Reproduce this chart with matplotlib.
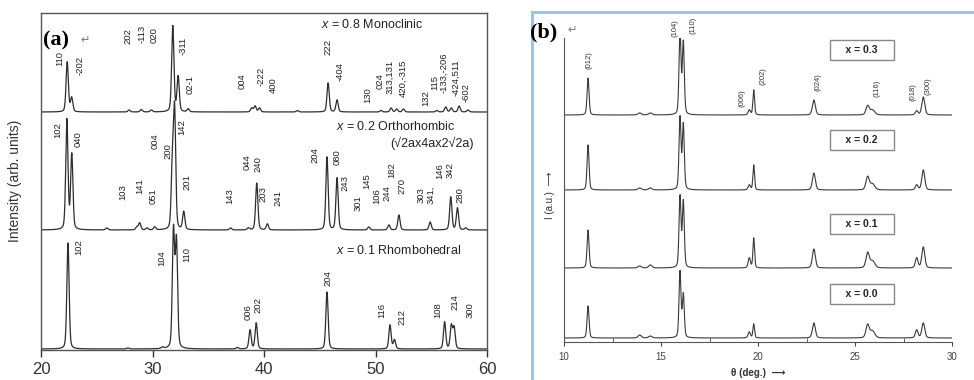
import numpy as np
import matplotlib
matplotlib.use('Agg')
import matplotlib.pyplot as plt
from matplotlib.patches import Rectangle

plt.rcParams['font.family'] = ['Liberation Sans', 'DejaVu Sans']
plt.rcParams['mathtext.fontset'] = 'custom'
plt.rcParams['mathtext.it'] = 'Liberation Sans:italic'
plt.rcParams['mathtext.rm'] = 'Liberation Sans'

# ---------------- panel (a): 2-theta of each reflection and height above baseline
mono_pos = [22.35, 22.75, 27.9, 29.0, 29.9, 31.82, 32.3, 33.2, 38.9, 39.2, 39.6, 43.0,
            45.75, 46.55, 50.5, 51.4, 51.9, 52.5, 55.5, 56.3, 56.8, 57.5, 58.3]
mono_h = [50, 14, 2, 2.5, 2, 86, 35, 3, 4, 6, 4, 1.5,
          29, 12, 1.5, 4, 3, 3, 1.5, 5, 4, 6, 2]

ortho_pos = [22.32, 22.76, 25.9, 28.6, 28.85, 29.5, 30.2, 31.78, 31.98, 32.8, 37.0, 38.6,
             39.35, 40.3, 45.65, 46.55, 49.4, 51.2, 52.1, 54.9, 56.75, 57.35, 58.1]
ortho_h = [110, 75, 2, 3, 7, 2, 3, 60, 117, 18, 2, 2,
           47, 6, 73, 52, 3, 5, 15, 8, 33, 22, 2]

rhombo_pos = [22.42, 27.8, 30.9, 31.88, 32.15, 37.6, 38.75, 39.3, 45.65, 51.3, 51.7,
              56.2, 56.8, 57.05]
rhombo_h = [106, 1, 1.5, 117, 106, 1.5, 19, 26, 57, 24, 9, 27, 23, 21]

# label text with its anchor (2-theta, height in panel units)
mono_tags = [('110', 21.7, 292), ('-202', 23.5, 285), ('202', 27.8, 314), ('-113', 29.05, 316),
             ('020', 30.15, 315), ('-311', 32.75, 304), ('02-1', 33.4, 265), ('004', 38.05, 269),
             ('-222', 39.75, 274), ('400', 40.8, 265), ('222', 45.75, 303), ('-404', 46.8, 278),
             ('130', 49.35, 255), ('024', 50.4, 269), ('313,131', 51.3, 273),
             ('420,-315', 52.45, 272), ('132', 54.55, 252), ('115', 55.3, 267),
             ('-133,-206', 56.1, 277), ('-424,511', 57.25, 272), ('-602', 58.15, 257)]
ortho_tags = [('102', 21.5, 220), ('040', 23.3, 211), ('103', 27.35, 158), ('141', 28.85, 164),
              ('051', 30.05, 154), ('004', 30.2, 209), ('200', 31.4, 199), ('142', 32.6, 223),
              ('201', 33.1, 168), ('143', 36.95, 154), ('044', 38.5, 188), ('240', 39.45, 186),
              ('203', 39.9, 156), ('241', 41.25, 152), ('204', 44.55, 195), ('080', 46.55, 193),
              ('243', 47.25, 167), ('301', 48.45, 147), ('145', 49.25, 169), ('106', 50.15, 154),
              ('244', 51.05, 157), ('182', 51.5, 180), ('270', 52.4, 164), ('303', 54.1, 155),
              ('341,', 55.0, 155), ('146', 55.8, 179), ('342', 56.7, 180), ('280', 57.6, 155)]
rhombo_tags = [('102', 23.35, 103), ('104', 30.85, 92), ('110', 33.1, 95), ('006', 38.55, 38),
               ('202', 39.45, 45), ('204', 45.75, 72), ('116', 50.6, 39), ('212', 52.4, 33),
               ('108', 55.6, 40), ('214', 57.15, 48), ('300', 58.5, 40)]

# ---------------- panel (b): theta of each reflection and heights for x = 0.3 ... 0.0
b_pos = [11.24, 13.9, 14.45, 15.98, 16.15, 19.55, 19.78, 22.88, 25.65, 25.9, 28.18, 28.52]
b_width = [0.06, 0.1, 0.1, 0.06, 0.06, 0.07, 0.05, 0.09, 0.1, 0.14, 0.08, 0.09]
h_x03 = [37, 2, 2, 82, 72, 5, 25, 15, 9, 5, 4, 18]
h_x02 = [45, 2, 2, 72, 65, 5, 25, 17, 13, 6, 5, 20]
h_x01 = [38, 2, 3, 71, 66, 10, 30, 19, 15, 7, 10, 21]
h_x00 = [32, 3, 2, 66, 43, 6, 14, 15, 13, 7, 8, 15]
b_names = ['x = 0.3', 'x = 0.2', 'x = 0.1', 'x = 0.0']
b_tags = [('(012)', 11.29, 282), ('(104)', 15.72, 314), ('(110)', 16.65, 317), ('(006)', 19.18, 244),
          ('(202)', 20.26, 266), ('(024)', 23.09, 260), ('(116)', 26.13, 254),
          ('(018)', 27.99, 250), ('(300)', 28.76, 256)]


def pattern(x, pos, height, width, base):
    y = np.full_like(x, base, dtype=float)
    width = np.broadcast_to(width, len(pos))
    for p, h, w in zip(pos, height, width):
        u = (x - p) / w
        y += h * (0.7 * np.exp(-np.log(2) * u ** 2) + 0.3 / (1 + u ** 2))
    return y


fig = plt.figure(figsize=(9.74, 3.8), dpi=100)
W, H = 974.0, 380.0

# ---------------- panel (a)
ax = fig.add_axes([41 / W, 1 - 350 / H, 446 / W, 337 / H])
tt = np.linspace(20, 60, 6000)
line_kw = dict(color='#2e2e2e', lw=0.9)
ax.plot(tt, pattern(tt, mono_pos, mono_h, 0.12, 238), **line_kw)
ax.plot(tt, pattern(tt, ortho_pos, ortho_h, 0.12, 120), **line_kw)
ax.plot(tt, pattern(tt, rhombo_pos, rhombo_h, 0.12, 1), **line_kw)
ax.set_xlim(20, 60)
ax.set_ylim(0, 337)
ax.set_yticks([])
ax.set_xticks([20, 30, 40, 50, 60])
ax.tick_params(axis='x', direction='out', length=5, width=1, labelsize=12, pad=4, colors='#333')
for s in ax.spines.values():
    s.set_color('#555')
    s.set_linewidth(1)

for tags in (mono_tags, ortho_tags, rhombo_tags):
    for txt, x, y in tags:
        ax.text(x, y, txt, rotation=90, ha='center', va='center', fontsize=6.8, color='#222')

ax.text(49.7, 326, '$x$ = 0.8 Monoclinic', ha='center', va='center', fontsize=9, color='#222')
ax.text(51.8, 223, '$x$ = 0.2 Orthorhombic', ha='center', va='center', fontsize=9, color='#222')
ax.text(58.8, 207, '(\u221a2ax4ax2\u221a2a)', ha='right', va='center', fontsize=9, color='#222')
ax.text(52.1, 100, '$x$ = 0.1 Rhombohedral', ha='center', va='center', fontsize=9, color='#222')

fig.text(43 / W, 1 - 40 / H, '(a)', family='Liberation Serif', weight='bold', fontsize=16,
         va='center', ha='left', bbox=dict(fc='white', ec='none', pad=0), zorder=5)
fig.text(80 / W, 1 - 40 / H, '\u21b5', fontsize=8, color='#777', va='center',
         family=['DejaVu Sans'])
fig.text(15 / W, 1 - 181 / H, 'Intensity (arb. units)', rotation=90, ha='center', va='center',
         fontsize=10, color='#333')

# ---------------- panel (b)
bx = fig.add_axes([564 / W, 1 - 342 / H, 388 / W, 304 / H])
th = np.linspace(10, 30, 6000)
for heights, base in zip([h_x03, h_x02, h_x01, h_x00], [227, 152, 74, 4]):
    bx.plot(th, pattern(th, b_pos, heights, b_width, base), color='#3a3a3a', lw=0.8)
bx.set_xlim(10, 30)
bx.set_ylim(0, 304)
bx.set_yticks([])
bx.set_xticks([10, 15, 20, 25, 30])
bx.set_xticks([12.5, 17.5, 22.5, 27.5], minor=True)
bx.tick_params(axis='x', which='major', direction='out', length=3, labelsize=7, pad=4, colors='#444')
bx.tick_params(axis='x', which='minor', direction='in', length=3, colors='#444')
bx.spines['top'].set_visible(False)
bx.spines['right'].set_visible(False)
for s in ('left', 'bottom'):
    bx.spines[s].set_color('#555')
    bx.spines[s].set_linewidth(0.8)

for txt, x, y in b_tags:
    bx.text(x, y, txt, rotation=90, ha='center', va='center', fontsize=5.5, color='#333',
            clip_on=False)
for name, y in zip(b_names, [292, 202, 118, 48]):
    bx.text(25.36, y, '    ' + name + '    ', ha='center', va='center', fontsize=7.5,
            weight='bold', color='#222',
            bbox=dict(boxstyle='square,pad=0.45', fc='white', ec='#888', lw=1))

fig.text(530 / W, 1 - 32 / H, '(b)', family='Liberation Serif', weight='bold', fontsize=16,
         va='center', ha='left')
fig.text(567 / W, 1 - 30 / H, '\u21b5', fontsize=8, color='#777', va='center',
         family=['DejaVu Sans'])
fig.text(550 / W, 1 - 195 / H, 'I (a.u.)  \u27f6', rotation=90, ha='center', va='center',
         fontsize=7, color='#333', family=['Liberation Sans', 'DejaVu Sans'])
fig.text(758 / W, 1 - 373 / H, '\u03b8 (deg.)  \u27f6', ha='center', va='center', fontsize=7,
         weight='bold', color='#333', family=['Liberation Sans', 'DejaVu Sans'])

fig.add_artist(Rectangle((532 / W, -0.1), 0.6, 1.1 - 12 / H, transform=fig.transFigure,
                         fill=False, ec='#9dc3e6', lw=2.2))

fig.savefig('out.png', dpi=100)
